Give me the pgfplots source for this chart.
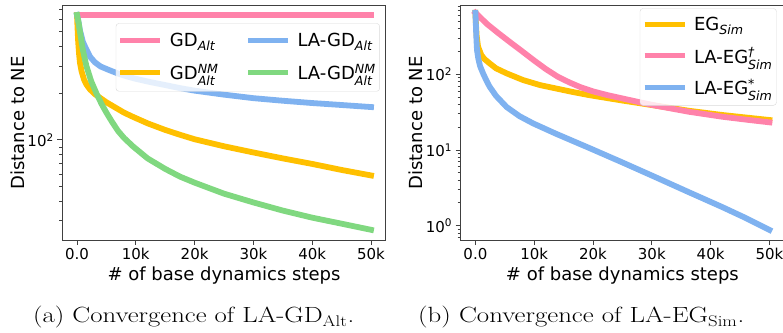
\documentclass[border=0pt]{standalone}
\usepackage{pgfplots}
\pgfplotsset{compat=1.18}
\usepackage{amsmath}
\usepackage{graphicx}
\usepackage{fontspec}
\newfontfamily\djv{DejaVu Sans}
\definecolor{cpink}{RGB}{255,130,170}
\definecolor{cyel}{RGB}{255,192,0}
\definecolor{cblue}{RGB}{127,178,240}
\definecolor{cgreen}{RGB}{128,216,128}
\newcommand{\sbit}[1]{$_{\text{\itshape #1}}$}
\newcommand{\spsb}[2]{$^{\text{\itshape #1}}_{\text{\itshape #2}}$}
\pgfplotsset{
 every axis/.append style={
  scale only axis, width=323.4pt, height=234.3pt,
  xmin=-2500, xmax=52500,
  axis line style={black!75, line width=0.9pt},
  every tick/.style={black!75, line width=0.9pt},
  major tick length=5pt, minor tick length=3pt,
  tick align=outside, xtick pos=bottom, ytick pos=left,
  xtick={0,10000,20000,30000,40000,50000}, xticklabels={0.0,10k,20k,30k,40k,50k},
  scaled x ticks=false,
  tick label style={font=\djv\fontsize{15}{18}\selectfont, black},
  xlabel={\# of base dynamics steps},
  ylabel={Distance to NE},
  every axis x label/.style={at={(axis description cs:0.5,0)}, anchor=base, yshift=-40pt, font=\djv\fontsize{18}{21}\selectfont},
  every axis y label/.style={at={(axis description cs:-0.139,0.5)}, rotate=90, anchor=center, font=\djv\fontsize{18}{21}\selectfont},
  legend cell align=left,
  legend image code/.code={\draw[#1, line width=5pt, line cap=butt] (0pt,0pt) -- (40pt,0pt);},
  every axis plot/.append style={line width=5.8pt, line cap=rect, line join=round},
 }
}
\begin{document}
\begin{tikzpicture}
\begin{axis}[ymode=log, at={(62.3pt,-240pt)}, anchor=south west,
  ymin=22.6, ymax=735, ytick={100}, yticklabels={10\textsuperscript{2}},
  minor ytick={30,40,50,60,70,80,90,200,300,400,500,600,700},
  legend columns=2,
  legend style={at={(0.982,0.925)}, anchor=north east, draw=black!15, rounded corners=3pt,
    fill=white, fill opacity=0.8, text opacity=1, font=\djv\fontsize{18}{21}\selectfont,
    inner xsep=2pt, inner ysep=8pt, row sep=12pt,
    /tikz/every odd column/.append style={column sep=5pt},
    /tikz/every even column/.append style={column sep=25pt}},
]
\addplot[cpink, forget plot] coordinates {(0,640)(50000,640)};
\addplot[cyel, forget plot] coordinates {(0,640)(100,520)(200,430)(350,360)(500,315)(800,275)(1200,245)(1600,228)(2200,212)(3000,198)(4000,186)(5000,175)(6500,162)(8000,150)(9500,141)(12000,128)(15000,116)(17500,108)(20000,101)(25000,91)(30000,83)(35000,76)(40000,70)(45000,64)(50000,59)};
\addplot[cblue, forget plot] coordinates {(0,640)(250,580)(500,510)(1000,430)(1500,390)(2200,345)(3000,318)(4000,298)(5500,282)(7000,268)(8500,257)(10000,248)(12500,236)(15000,226)(17500,216)(20000,208)(25000,196)(30000,186)(35000,179)(40000,173)(45000,168)(50000,163)};
\addplot[cgreen, forget plot] coordinates {(0,640)(250,580)(500,500)(1000,380)(1600,300)(2400,240)(3300,200)(4200,170)(5000,150)(6000,130)(7000,114)(8000,103)(9500,91)(12000,76)(15000,65)(17500,58)(20000,53)(25000,45)(30000,39.5)(35000,35)(40000,31.5)(45000,28.8)(50000,26.3)};
\addlegendimage{cpink}\addlegendentry{GD\sbit{Alt}}
\addlegendimage{cblue}\addlegendentry{LA-GD\sbit{Alt}}
\addlegendimage{cyel}\addlegendentry{GD\spsb{NM}{Alt}}
\addlegendimage{cgreen}\addlegendentry{LA-GD\spsb{NM}{Alt}}
\end{axis}
\begin{axis}[ymode=log, at={(460.7pt,-240pt)}, anchor=south west,
  ymin=0.647, ymax=806, ytick={1,10,100},
  yticklabels={10\textsuperscript{0},10\textsuperscript{1},10\textsuperscript{2}},
  minor ytick={0.7,0.8,0.9,2,3,4,5,6,7,8,9,20,30,40,50,60,70,80,90,200,300,400,500,600,700,800},
  legend style={at={(0.977,0.989)}, anchor=north east, draw=black!15, rounded corners=3pt,
    fill=white, fill opacity=0.8, text opacity=1, font=\djv\fontsize{18}{21}\selectfont,
    inner xsep=2pt, inner ysep=7pt, row sep=10.5pt,
    /tikz/every odd column/.append style={column sep=5pt}},
]
\addplot[cyel] coordinates {(0,650)(100,450)(200,330)(450,232)(1000,180)(1500,160)(2400,140)(3500,120)(5300,103)(8100,84)(11000,72)(13700,65)(16500,58.5)(19400,53)(25000,45)(30700,38.5)(36300,33)(42000,29)(50000,24.9)};
\addlegendentry{EG\sbit{Sim}}
\addplot[cpink] coordinates {(0,650)(2000,460)(4000,345)(6000,262)(8000,200)(10000,152)(12000,117)(14000,93)(16000,78)(18000,67)(20000,59.5)(22500,53)(25000,48)(27500,43.5)(30700,38.5)(36300,32)(42000,27.5)(46000,25.2)(50000,23.2)};
\addlegendentry{LA-EG\spsb{\textdagger}{Sim}}
\addplot[cblue] coordinates {(0,650)(80,450)(150,320)(270,209)(500,160)(800,128)(1300,103)(1800,85)(2400,69)(3500,52)(5300,37)(7500,28)(9800,22.5)(13700,16.4)(19400,10.6)(25000,6.85)(30700,4.35)(36300,2.77)(42000,1.76)(46000,1.26)(50000,0.88)};
\addlegendentry{LA-EG\spsb{*}{Sim}}
\end{axis}
\node[anchor=base west, inner sep=0pt] at (33pt,-322.7pt) {\scalebox{1.215}[1]{\fontsize{22}{26}\selectfont (a) Convergence of LA-GD$_{\mathrm{Alt}}$.}};
\node[anchor=base west, inner sep=0pt] at (418pt,-322.7pt) {\scalebox{1.22}[1]{\fontsize{22}{26}\selectfont (b) Convergence of LA-EG$_{\mathrm{Sim}}$.}};
\pgfresetboundingbox
\useasboundingbox (0,0) rectangle (783pt,-332pt);
\end{tikzpicture}
\end{document}
